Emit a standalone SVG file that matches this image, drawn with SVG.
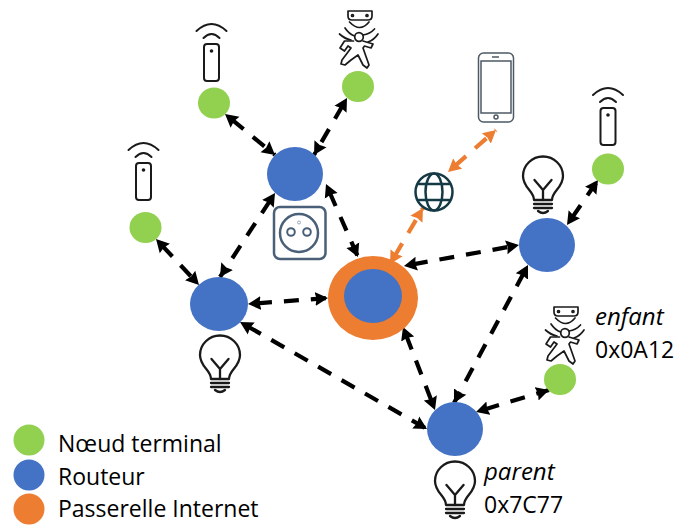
<svg xmlns="http://www.w3.org/2000/svg" width="676" height="525" viewBox="0 0 676 525">
<style>
.g{fill:#92d050}.b{fill:#4472c4}.o{fill:#ed7d31}
.k,.r{fill:none;stroke-width:4.200;stroke-dasharray:15 12;stroke-dashoffset:18}
.k{stroke:#000;marker-start:url(#ak);marker-end:url(#ak)}
.r{stroke:#ed7d31;marker-start:url(#ao);marker-end:url(#ao)}
.i{fill:none;stroke:#1a1a1a;stroke-width:2;stroke-linecap:round;stroke-linejoin:round}
.t{font-family:"Open Sans","Noto Sans",sans-serif;font-size:23px;fill:#000}
.em{font-style:italic;font-size:24px}
</style>
<defs>
<marker id="ak" markerUnits="userSpaceOnUse" markerWidth="16" markerHeight="16" refX="13" refY="7.500" orient="auto-start-reverse"><path d="M0 0.500L13 7.500L0 14.500L1.500 7.500Z" fill="#000"/></marker>
<marker id="ao" markerUnits="userSpaceOnUse" markerWidth="16" markerHeight="16" refX="13" refY="7.500" orient="auto-start-reverse"><path d="M0 0.500L13 7.500L0 14.500L1.500 7.500Z" fill="#ed7d31"/></marker>
<symbol id="sensor" overflow="visible"><g class="i"><path d="M-15 7Q0 -7 15 7"/><path d="M-8 14Q0 6 8 14"/><rect x="-7.500" y="20" width="15" height="37" rx="3"/></g><circle cx="0" cy="27" r="1.800" fill="#1a1a1a"/></symbol>
<symbol id="bulb" overflow="visible"><g class="i" style="stroke-width:2.300"><path d="M-9 43C-9 34 -20 31 -20 19A20 19.500 0 1 1 20 19C20 31 9 34 9 43Z"/><path d="M0 43V33M-8.500 23L0 33L8.500 23M-9 47H9M-9 51H9"/><path d="M-5 54Q0 58 5 54"/></g></symbol>
<symbol id="motion" overflow="visible"><g class="i" style="stroke-width:1.700"><path d="M-12 0H12V5Q12 9 8 9H-8Q-12 9 -12 5Z"/><circle cx="-7.500" cy="4.500" r="1"/><circle cx="7" cy="4.500" r="1"/><path d="M-10.500 11Q0 22 9 11M-15 17Q-11 23 -5.500 25M-20.500 23Q-15 28 -9 29M3 24Q10 23 14.500 18M8 31Q14 29 18 23"/><circle cx="-1" cy="26" r="4.300"/><path d="M-6.500 30L-15.500 30L-20 37L-15.500 40L-12 35L-9 37L-18 49L-19 53L-15 54L-9 49L-2 44L3 54L7 57L9 54L3 37L4.500 35L11 37L13 33L3 30"/></g></symbol>
</defs>

<g id="connectors">
<line class="k" x1="225" y1="114" x2="275" y2="155"/>
<line class="k" x1="347" y1="98" x2="314" y2="155"/>
<line class="k" x1="275" y1="193" x2="220" y2="277"/>
<line class="k" x1="326" y1="184" x2="358" y2="257"/>
<line class="k" x1="156" y1="239" x2="199" y2="285"/>
<line class="k" x1="248" y1="304" x2="328" y2="298"/>
<line class="k" x1="240" y1="322" x2="427" y2="429"/>
<line class="k" x1="404" y1="266" x2="519" y2="245"/>
<line class="k" x1="403" y1="327" x2="435" y2="410"/>
<line class="k" x1="528" y1="265" x2="454" y2="403"/>
<line class="k" x1="567" y1="225" x2="598" y2="180"/>
<line class="k" x1="476" y1="412" x2="549" y2="390"/>
<line class="r" x1="390" y1="264" x2="423" y2="208"/>
<line class="r" x1="448" y1="172" x2="496" y2="130"/>
</g>

<g id="end-device-1"><use href="#sensor" x="211.500" y="24"/><ellipse class="g" cx="214" cy="103" rx="16" ry="15.500"/></g>
<g id="end-device-2"><use href="#motion" x="360" y="11"/><ellipse class="g" cx="358" cy="86.500" rx="16" ry="15.500"/></g>
<g id="end-device-3"><use href="#sensor" x="143.500" y="143"/><ellipse class="g" cx="145.500" cy="227.500" rx="16" ry="15.500"/></g>
<g id="end-device-4"><use href="#sensor" x="608" y="88"/><ellipse class="g" cx="608" cy="169" rx="16" ry="15.500"/></g>
<g id="end-device-enfant"><use href="#motion" x="566" y="307"/><ellipse class="g" cx="560" cy="379.500" rx="16" ry="15.500"/>
<text class="t em" x="595" y="325">enfant</text><text class="t" x="595" y="358">0x0A12</text></g>

<g id="router-1"><ellipse class="b" cx="295" cy="174" rx="28" ry="27"/>
<g fill="none" stroke="#4a6078"><rect x="274" y="207" width="51.500" height="52" rx="6" stroke-width="2.500"/><circle cx="299" cy="233" r="19" stroke-width="2.500"/><circle cx="291" cy="232" r="3.800" stroke-width="2"/><circle cx="307" cy="232" r="3.800" stroke-width="2"/><circle cx="299" cy="222.500" r="1.500" stroke="#9aa6b2"/></g></g>
<g id="router-2"><ellipse class="b" cx="219" cy="304" rx="29" ry="27"/><use href="#bulb" x="220" y="336"/></g>
<g id="router-3"><ellipse class="b" cx="547" cy="245" rx="28" ry="27"/><use href="#bulb" x="543" y="157"/></g>
<g id="router-parent"><ellipse class="b" cx="455" cy="429" rx="28" ry="27"/><use href="#bulb" x="455" y="462"/>
<text class="t em" x="484" y="480">parent</text><text class="t" x="484" y="513">0x7C77</text></g>

<g id="gateway"><ellipse class="o" cx="373" cy="298" rx="45" ry="42"/><ellipse class="b" cx="373" cy="296" rx="29" ry="27"/></g>

<g id="globe" fill="none" stroke="#163a45" stroke-width="2.500"><circle cx="434" cy="192" r="18.500"/><ellipse cx="434" cy="192" rx="8.500" ry="18.500"/><path d="M418 184H450M418 200H450"/></g>

<g id="phone" fill="none" stroke="#4d5a66" stroke-width="1.500"><rect x="478.500" y="53" width="35" height="69" rx="5"/><rect x="481" y="61" width="30" height="52"/><circle cx="496" cy="117" r="2"/><path d="M492 57H499"/></g>

<g id="legend">
<circle class="g" cx="29" cy="440" r="15.500"/><text class="t" x="58" y="452">Nœud terminal</text>
<circle class="b" cx="29" cy="475" r="15.500"/><text class="t" x="58" y="485">Routeur</text>
<circle class="o" cx="29" cy="509" r="15.500"/><text class="t" x="58" y="517">Passerelle Internet</text>
</g>
</svg>
